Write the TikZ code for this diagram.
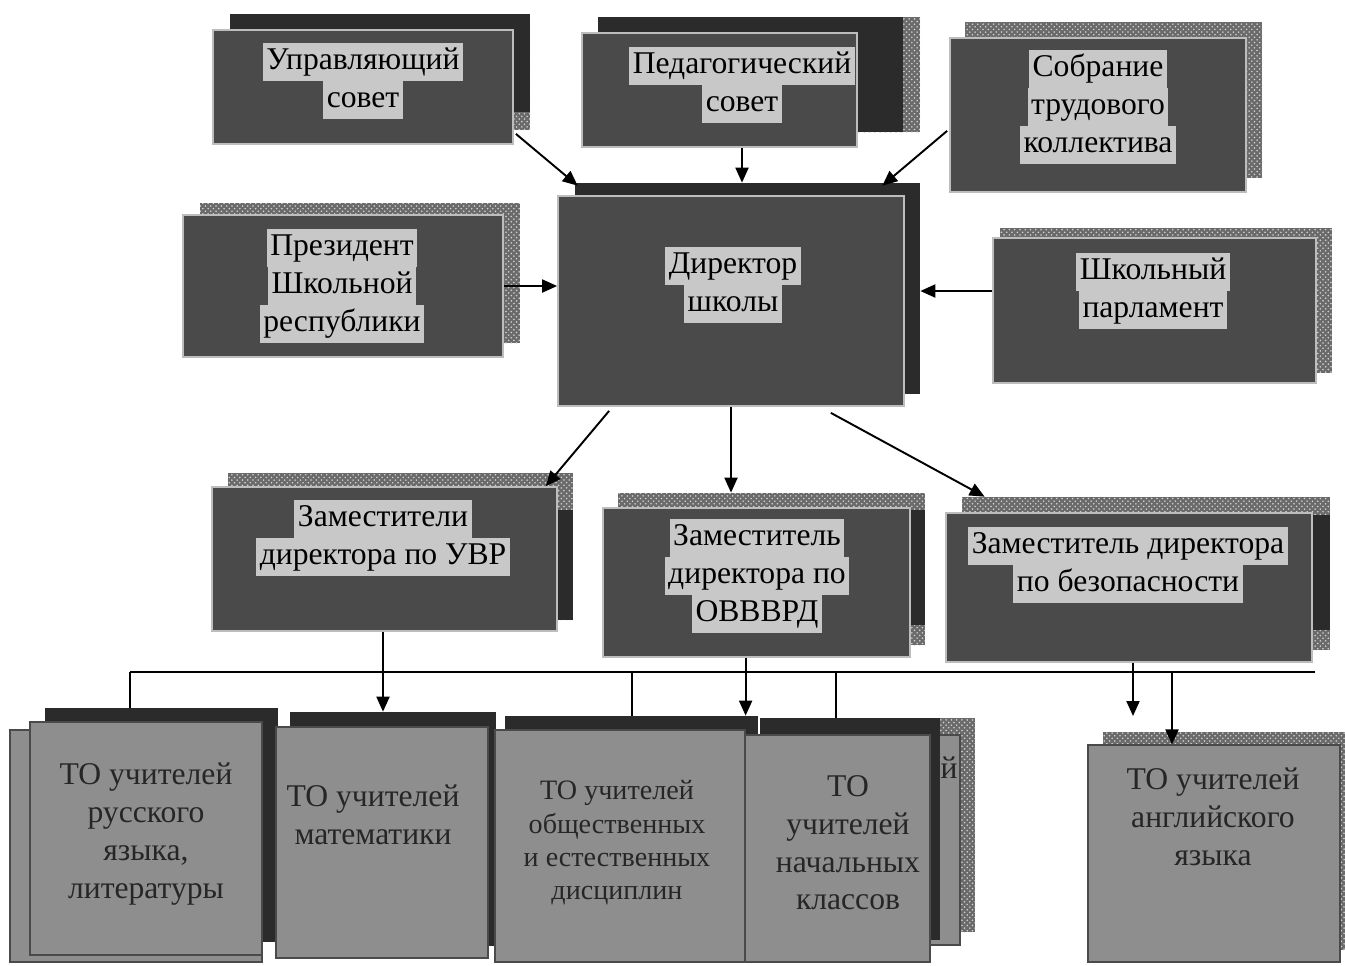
\documentclass[tikz,border=0pt]{standalone}
\usepackage{fontspec}
\setmainfont{Liberation Serif}
\usetikzlibrary{arrows.meta,calc,fit,patterns}
\definecolor{slate}{HTML}{4A4A4A}
\definecolor{slateDark}{HTML}{2B2B2B}
\definecolor{rim}{HTML}{BDBDBD}
\definecolor{marker}{HTML}{C8C8C8}
\definecolor{ash}{HTML}{8E8E8E}
\definecolor{ashDark}{HTML}{4A4A4A}
\definecolor{dots}{HTML}{6A6A6A}
\newcommand{\hlline}[1]{{\fboxsep=0pt\colorbox{marker}{\kern2pt\strut #1\kern2pt}}}
\tikzset{
  basebox/.style={rectangle,inner sep=0pt},
  darkbox/.style={basebox,draw=rim,line width=1pt,fill=slate},
  greybox/.style={basebox,draw=ashDark,line width=0.7pt,fill=ash},
  darkshade/.style={basebox,fill=slateDark},
  checkshade/.style={basebox,fill=dots,postaction={pattern=crosshatch dots,pattern color=gray!35}},
  boxtext/.style={align=center,inner sep=0pt,font=\fontsize{18}{21.5}\selectfont},
  rowtext/.style={boxtext,text=black!85},
  arrow/.style={-{Triangle[length=3mm,width=2.6mm]},line width=1.1pt,draw=black},
  bus/.style={line width=1.1pt,draw=black}
}

\begin{document}
\begin{tikzpicture}[x=0.02cm,y=-0.02cm]
    \useasboundingbox (0,0) rectangle (1345,965);

    % councils
    \node[checkshade,fit={(230,14) (530,130)}] (uprsh) {};
    \node[darkshade,fit={(230,14) (530,112)}] (uprsh2) {};
    \node[darkbox,fit={(213,30) (513,144)}] (upr) {};
    \node[boxtext] (uprt) at (363,81) {\hlline{Управляющий}\\\hlline{совет}};

    \node[checkshade,fit={(598,17) (920,132)}] (pedsh) {};
    \node[darkshade,fit={(598,17) (903,132)}] (pedsh2) {};
    \node[darkbox,fit={(582,33) (857,147)}] (ped) {};
    \node[boxtext] (pedt) at (742,85) {\hlline{Педагогический}\\\hlline{совет}};

    \node[checkshade,fit={(965,22) (1262,178)}] (sobrsh) {};
    \node[darkbox,fit={(950,38) (1246,192)}] (sobr) {};
    \node[boxtext] (sobrt) at (1098,107) {\hlline{Собрание}\\\hlline{трудового}\\\hlline{коллектива}};

    \node[checkshade,fit={(200,203) (520,343)}] (pressh) {};
    \node[darkbox,fit={(183,215) (503,357)}] (pres) {};
    \node[boxtext] (prest) at (342,286) {\hlline{Президент}\\\hlline{Школьной}\\\hlline{республики}};

    \node[darkshade,fit={(575,183) (920,394)}] (dirsh) {};
    \node[darkbox,fit={(558,196) (904,406)}] (dir) {};
    \node[boxtext] (dirt) at (733,285) {\hlline{Директор}\\\hlline{школы}};

    \node[checkshade,fit={(1000,228) (1332,373)}] (parlsh) {};
    \node[darkbox,fit={(993,238) (1316,383)}] (parl) {};
    \node[boxtext] (parlt) at (1153,291) {\hlline{Школьный}\\\hlline{парламент}};

    % deputies
    \node[checkshade,fit={(228,473) (573,620)}] (uvrsh) {};
    \node[darkshade,fit={(557,510) (573,620)}] (uvrsh2) {};
    \node[darkbox,fit={(212,487) (557,631)}] (uvr) {};
    \node[boxtext] (uvrt) at (383,538) {\hlline{Заместители}\\\hlline{директора по УВР}};

    \node[checkshade,fit={(618,493) (925,645)}] (ovsh) {};
    \node[darkshade,fit={(910,510) (925,625)}] (ovsh2) {};
    \node[darkbox,fit={(603,508) (910,657)}] (ov) {};
    \node[boxtext] (ovt) at (757,576) {\hlline{Заместитель}\\\hlline{директора по}\\\hlline{ОВВВРД}};

    \node[checkshade,fit={(962,497) (1330,650)}] (bezsh) {};
    \node[darkshade,fit={(1312,515) (1330,630)}] (bezsh2) {};
    \node[darkbox,fit={(946,513) (1312,662)}] (bez) {};
    \node[boxtext] (bezt) at (1128,565) {\hlline{Заместитель директора}\\\hlline{по безопасности}};

    % teacher groups
    \node[greybox,fit={(10,730) (262,962)}] (rusback) {};
    \node[darkshade,fit={(45,708) (278,942)}] (russh) {};
    \node[greybox,fit={(30,722) (262,955)}] (rus) {};
    \node[rowtext] (rust) at (146,834) {ТО учителей\\русского\\языка,\\литературы};

    \node[darkshade,fit={(290,712) (496,946)}] (mathsh) {};
    \node[greybox,fit={(276,727) (488,958)}] (math) {};
    \node[rowtext] (matht) at (373,815) {ТО учителей\\математики};

    \node[darkshade,fit={(505,716) (758,950)}] (obshsh) {};
    \node[greybox,fit={(495,730) (745,962)}] (obsh) {};
    \node[rowtext,font=\fontsize{16}{19}\selectfont] (obsht) at (617,843) {ТО учителей\\общественных\\и естественных\\дисциплин};

    \node[checkshade,fit={(775,718) (975,932)}] (nachbacksh) {};
    \node[greybox,fit={(760,735) (960,945)}] (nachback) {};
    \node[rowtext,anchor=east] (nachbackt) at (958,768) {й};
    \node[darkshade,fit={(760,718) (940,940)}] (nachsh) {};
    \node[greybox,fit={(745,735) (930,962)}] (nach) {};
    \node[rowtext] (nacht) at (848,843) {ТО\\учителей\\начальных\\классов};

    \node[checkshade,fit={(1103,732) (1345,950)}] (engsh) {};
    \node[greybox,fit={(1088,745) (1340,962)}] (eng) {};
    \node[rowtext] (engt) at (1213,817) {ТО учителей\\английского\\языка};

    % links to the director
    \draw[arrow] ($(upr.south east)+(2,-11)$) -- ($(dirsh.north west)+(3,3)$);
    \draw[arrow] (ped.south -| pedt) -- (dirsh.north -| pedt);
    \draw[arrow] ($(sobr.south west)+(-2,-62)$) -- ($(dirsh.north east)+(-38,3)$);
    \draw[arrow] (pres.east) -- (dir.west |- pres.east);
    \draw[arrow] (parl.west |- parlt) -- (dirsh.east |- parlt);

    \draw[arrow] ($(dir.south west)+(52,4)$) -- ($(uvr.north east)+(-12,0)$);
    \draw[arrow] (dir.south) -- (dir.south |- ovsh.north);
    \draw[arrow] ($(dir.south east)+(-74,6)$) -- ($(bezsh.north west)+(23,0)$);

    % bus to the teacher groups
    \coordinate (busL) at (130,672);
    \coordinate (busR) at (1315,672);
    \coordinate (tapA) at (632,672);
    \coordinate (tapB) at (836,672);
    \coordinate (tapC) at (1172,672);
    \coordinate (bezend) at (1133,716);
    \draw[bus] (busL) -- (busR);
    \draw[bus] (busL) -- (russh.north -| busL);
    \draw[bus] (tapA) -- (obshsh.north -| tapA);
    \draw[bus] (tapB) -- (nachsh.north -| tapB);
    \draw[arrow] (uvr.south -| uvrt) -- (mathsh.north -| uvrt);
    \draw[arrow] (ov.south -| obsh.east) -- (obshsh.north -| obsh.east);
    \draw[arrow] (bez.south -| bezend) -- (bezend);
    \draw[arrow] (tapC) -- (eng.north -| tapC);
\end{tikzpicture}
\end{document}
